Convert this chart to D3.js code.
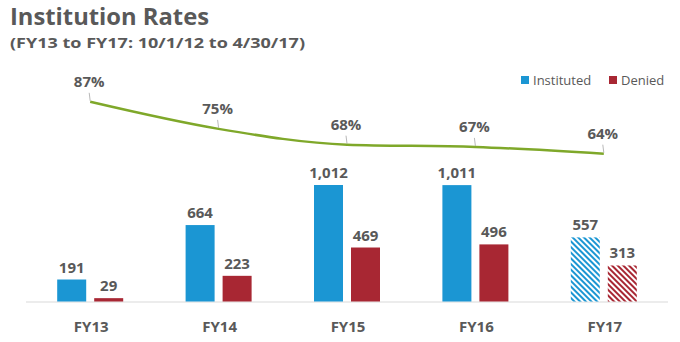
<!DOCTYPE html>
<html><head><meta charset="utf-8">
<script src="https://cdn.jsdelivr.net/npm/d3@7"></script>
<style>body{margin:0;background:#fff}svg{display:block;font-family:"Open Sans","Noto Sans",sans-serif}</style>
</head><body><svg id="c" width="680" height="342"></svg>
<script>
const categories = ["FY13","FY14","FY15","FY16","FY17"];
const instituted = [191,664,1012,1011,557];
const denied = [29,223,469,496,313];
const rates = [87,75,68,67,64];
const seriesNames = ["Instituted","Denied"];
const colors = {Instituted:"#1b96d3", Denied:"#a82733"};
const gray = "#595959";

const svg = d3.select("#c");
const defs = svg.append("defs");
[["hatchBlue",colors.Instituted],["hatchRed",colors.Denied]].forEach(([id,c])=>{
  const p = defs.append("pattern").attr("id",id).attr("patternUnits","userSpaceOnUse")
    .attr("width",4).attr("height",4).attr("patternTransform","rotate(-45)");
  p.append("rect").attr("width",4).attr("height",4).attr("fill","#fff");
  p.append("rect").attr("width",2).attr("height",4).attr("fill",c);
});

const baseY = 301.5;
const x = d3.scaleBand().domain(categories).range([26,668]).paddingInner(0).paddingOuter(0);
const y = d3.scaleLinear().domain([0,1012]).range([baseY,185]);
const yr = d3.scaleLinear().domain([0,100]).range([298,72.5]);

// title
svg.append("text").attr("x",10).attr("y",25).attr("fill",gray).attr("font-weight",700)
  .attr("font-size",23).attr("textLength",199).attr("lengthAdjust","spacingAndGlyphs").text("Institution Rates");
svg.append("text").attr("x",10).attr("y",48).attr("fill",gray).attr("font-weight",700)
  .attr("font-size",15).attr("textLength",295).attr("lengthAdjust","spacingAndGlyphs").text("(FY13 to FY17: 10/1/12 to 4/30/17)");

// legend
const leg = [{n:"Instituted",x:521,tx:533},{n:"Denied",x:609,tx:621}];
leg.forEach(l=>{
  svg.append("rect").attr("x",l.x).attr("y",76).attr("width",8).attr("height",8).attr("fill",colors[l.n]);
  svg.append("text").attr("x",l.tx).attr("y",85).attr("fill",gray).attr("font-size",13).text(l.n);
});

// axis line
svg.append("line").attr("x1",26).attr("x2",668).attr("y1",baseY+0.5).attr("y2",baseY+0.5)
  .attr("stroke","#d9d9d9").attr("stroke-width",1);

const bw = 29;
categories.forEach((c,i)=>{
  const cx = x(c) + x.bandwidth()/2;
  const last = i === categories.length-1;
  const bars = [
    {v:instituted[i], x0:cx-33, fill: last?"url(#hatchBlue)":colors.Instituted},
    {v:denied[i], x0:cx+4, fill: last?"url(#hatchRed)":colors.Denied}
  ];
  bars.forEach(b=>{
    svg.append("rect").attr("x",b.x0).attr("y",y(b.v)).attr("width",bw).attr("height",baseY-y(b.v)).attr("fill",b.fill);
    svg.append("text").attr("x",b.x0+bw/2).attr("y",y(b.v)-7).attr("text-anchor","middle")
      .attr("fill",gray).attr("font-weight",700).attr("font-size",15).text(d3.format(",")(b.v));
  });
  svg.append("text").attr("x",cx+1).attr("y",332).attr("text-anchor","middle")
    .attr("fill",gray).attr("font-weight",700).attr("font-size",15).text(c);
});

// line
const pts = categories.map((c,i)=>[x(c)+x.bandwidth()/2, yr(rates[i])]);
svg.append("path").attr("d",d3.line().curve(d3.curveMonotoneX)(pts))
  .attr("fill","none").attr("stroke","#7fa82a").attr("stroke-width",2.5);
pts.forEach((p,i)=>{
  svg.append("line").attr("x1",p[0]).attr("x2",p[0]-1).attr("y1",p[1]-1).attr("y2",p[1]-9)
    .attr("stroke","#a6a6a6").attr("stroke-width",0.8);
  svg.append("text").attr("x",p[0]-1).attr("y",p[1]-15).attr("text-anchor","middle")
    .attr("fill",gray).attr("font-weight",700).attr("font-size",15).text(rates[i]+"%");
});
</script></body></html>
